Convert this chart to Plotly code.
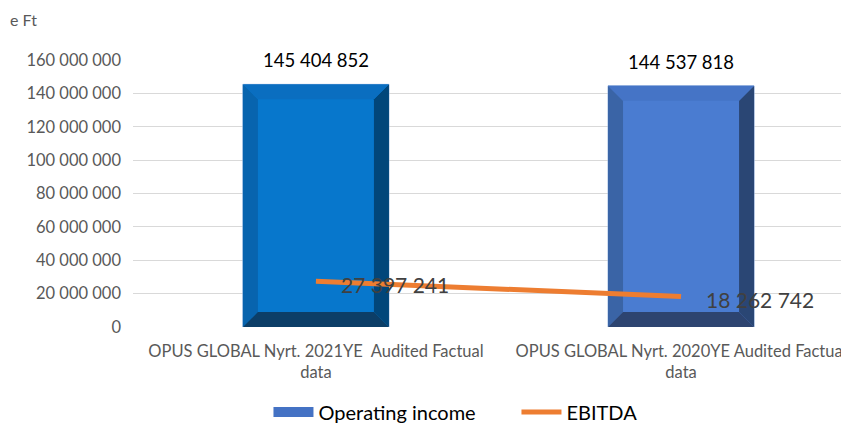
import plotly.graph_objects as go

categories = ["OPUS GLOBAL Nyrt. 2021YE  Audited Factual<br>data",
              "OPUS GLOBAL Nyrt. 2020YE Audited Factual<br>data"]
operating_income = [145404852, 144537818]
ebitda = [27397241, 18262742]
y_ticks = [0, 20000000, 40000000, 60000000, 80000000, 100000000, 120000000, 140000000, 160000000]
unit_label = "e Ft"

FONT = "Lato, Carlito, Calibri, sans-serif"
# page body has an 8px margin; the figure is sized to fill the rest of the window
W, H = 841, 418
ML, MR, MT, MB = 125, 0, 52, 99
X0, X1 = -0.501, 1.46
Y0, Y1 = 0, 160000000

face_colors = ["#0777CC", "#4A7CD1"]
left_colors = ["#0864AE", "#3A64A6"]
top_colors = ["#0A6EC0", "#4574C6"]
right_colors = ["#01467A", "#2A4674"]
bottom_colors = ["#0C3E67", "#2D4470"]
legend_color = "#4472C4"
line_color = "#ED7D31"


def fmt(v):
    return f"{v:,}".replace(",", " ")


xs = list(range(len(categories)))
plot_w = W - ML - MR
plot_h = H - MT - MB
bx = 15 * (X1 - X0) / plot_w
by = 15 * (Y1 - Y0) / plot_h
half = 0.2

fig = go.Figure()

fig.add_trace(go.Bar(
    x=xs, y=operating_income, width=2 * half,
    marker=dict(color=face_colors, line=dict(color="#9DB8E0", width=1)),
    showlegend=False, hoverinfo="skip"))

# legend entry for the bars (wide swatch)
fig.add_trace(go.Scatter(x=[None], y=[None], name="Operating income", mode="lines",
                         line=dict(color=legend_color, width=14), showlegend=True))

# bevel facets computed from bar values
for i, v in enumerate(operating_income):
    c = xs[i]
    l, r = c - half, c + half
    polys = [
        ([l, l, l + bx, l + bx, l], [0, v, v - by, by, 0], left_colors[i]),
        ([r, r, r - bx, r - bx, r], [0, v, v - by, by, 0], right_colors[i]),
        ([l, r, r - bx, l + bx, l], [v, v, v - by, v - by, v], top_colors[i]),
        ([l, r, r - bx, l + bx, l], [0, 0, by, by, 0], bottom_colors[i]),
    ]
    for px, py, col in polys:
        fig.add_trace(go.Scatter(x=px, y=py, fill="toself", fillcolor=col,
                                 mode="lines", line=dict(width=0),
                                 showlegend=False, hoverinfo="skip"))

fig.add_trace(go.Scatter(x=xs, y=ebitda, name="EBITDA", mode="lines",
                         line=dict(color=line_color, width=5)))

annotations = []
for i, v in enumerate(operating_income):
    annotations.append(dict(x=xs[i], y=v, xref="x", yref="y", text=fmt(v),
                            showarrow=False, yanchor="bottom", yshift=11,
                            font=dict(family=FONT, size=18.5, color="#000000")))
for i, v in enumerate(ebitda):
    annotations.append(dict(x=xs[i], y=v, xref="x", yref="y", text=fmt(v),
                            showarrow=False, xanchor="left", xshift=23, yshift=-3,
                            font=dict(family=FONT, size=21, color="#404040")))
annotations.append(dict(x=(0 - ML) / plot_w, y=(H - 11 - MB) / plot_h,
                        xref="paper", yref="paper", text=unit_label,
                        showarrow=False, xanchor="left", yanchor="middle",
                        font=dict(family=FONT, size=16, color="#595959")))

fig.update_layout(
    width=W, height=H,
    margin=dict(l=ML, r=MR, t=MT, b=MB),
    paper_bgcolor="white", plot_bgcolor="white",
    barmode="overlay",
    font=dict(family=FONT, color="#595959"),
    annotations=annotations,
    legend=dict(orientation="h", xref="container", yref="container",
                x=0.6046, y=1 - 404 / H, xanchor="center", yanchor="middle",
                font=dict(family=FONT, size=20, color="#000000"),
                itemwidth=40, entrywidth=193, entrywidthmode="pixels"),
    xaxis=dict(range=[X0, X1], tickvals=xs, ticktext=categories,
               showgrid=False, zeroline=False, showline=False, ticks="",
               ticklabelstandoff=12, ticklabeloverflow="allow",
               tickfont=dict(family=FONT, size=16.5, color="#595959")),
    yaxis=dict(range=[Y0, Y1], tickvals=y_ticks,
               ticktext=[fmt(t) for t in y_ticks],
               showgrid=True, gridcolor="#D9D9D9", gridwidth=1,
               zeroline=False, showline=False, ticks="", ticklen=0,
               ticklabelstandoff=11,
               tickfont=dict(family=FONT, size=16.5, color="#595959")),
)

fig.write_html("out.html")
